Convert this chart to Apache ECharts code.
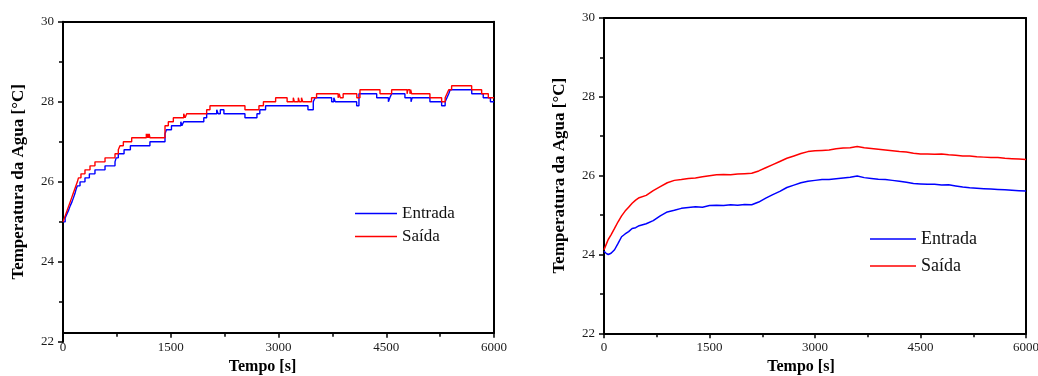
<!DOCTYPE html>
<html>
<head>
<meta charset="utf-8">
<script src="https://cdn.jsdelivr.net/npm/echarts@6/dist/echarts.min.js"></script>
<style>html,body{margin:0;padding:0;background:#fff;}#c{width:1038px;height:376px;}</style>
</head>
<body>
<div id="c"></div>
<script>
// ---- Left chart (stepped, 0.1 °C resolution): [time s, temperature °C] ----
const LEFT_ENTRADA = [[0,25.0],[30,25.1],[55,25.2],[80,25.3],[100,25.4],[125,25.5],[145,25.6],[165,25.7],[180,25.8],[200,25.9],[237,26.0],[306,26.1],[367,26.2],[445,26.3],[585,26.4],[724,26.5],[740,26.6],[770,26.7],[850,26.8],[938,26.9],[1210,27.0],[1420,27.2],[1440,27.3],[1510,27.4],[1640,27.5],[1655,27.4],[1680,27.5],[1960,27.6],[2000,27.7],[2140,27.8],[2160,27.7],[2190,27.8],[2240,27.7],[2533,27.6],[2700,27.7],[2740,27.8],[2820,27.9],[3410,27.8],[3484,28.0],[3510,28.1],[3740,28.0],[3770,28.1],[3790,28.0],[4088,27.9],[4120,28.2],[4367,28.1],[4530,28.0],[4550,28.1],[4575,28.2],[4760,28.1],[4845,28.0],[4860,28.1],[5108,28.0],[5271,27.9],[5320,28.0],[5345,28.1],[5370,28.2],[5390,28.3],[5690,28.2],[5850,28.1],[5950,28.0],[6000,28.0]];
const LEFT_SAIDA = [[0,25.0],[20,25.1],[40,25.2],[60,25.3],[80,25.4],[100,25.5],[120,25.6],[140,25.7],[160,25.8],[180,25.9],[200,26.0],[215,26.1],[250,26.2],[306,26.3],[376,26.4],[445,26.5],[585,26.6],[724,26.7],[770,26.8],[793,26.9],[840,27.0],[956,27.1],[1160,27.2],[1170,27.1],[1180,27.2],[1190,27.1],[1200,27.2],[1210,27.1],[1420,27.4],[1466,27.5],[1536,27.6],[1680,27.7],[1700,27.6],[1722,27.7],[2000,27.8],[2046,27.9],[2533,27.8],[2728,27.9],[2790,28.0],[2960,28.1],[3120,28.0],[3206,28.1],[3220,28.0],[3276,28.1],[3290,28.0],[3320,28.1],[3337,28.0],[3460,28.1],[3530,28.2],[3830,28.1],[3845,28.2],[3860,28.1],[3900,28.2],[4090,28.1],[4134,28.3],[4413,28.2],[4575,28.3],[4790,28.2],[4800,28.3],[4830,28.2],[4840,28.3],[4853,28.2],[5108,28.1],[5271,28.0],[5320,28.1],[5345,28.2],[5370,28.3],[5410,28.4],[5689,28.3],[5828,28.2],[5921,28.1],[6000,28.1]];

// ---- Right chart (continuous) ----
const RIGHT_T = [0,30,60,100,150,200,250,300,350,400,450,500,600,700,800,900,1000,1100,1200,1300,1400,1500,1600,1700,1800,1900,2000,2100,2200,2300,2400,2500,2600,2700,2800,2900,3000,3100,3200,3300,3400,3500,3600,3700,3800,3900,4000,4100,4200,4300,4400,4500,4600,4700,4800,4900,5000,5100,5200,5300,5400,5500,5600,5700,5800,5900,6000];
const RIGHT_ENTRADA = [24.08,24.03,24.0,24.03,24.12,24.28,24.45,24.52,24.58,24.66,24.68,24.73,24.78,24.86,24.98,25.08,25.12,25.17,25.19,25.21,25.2,25.24,25.25,25.24,25.26,25.25,25.27,25.26,25.33,25.43,25.52,25.6,25.7,25.76,25.82,25.86,25.88,25.9,25.9,25.92,25.94,25.96,25.99,25.95,25.93,25.91,25.9,25.88,25.86,25.83,25.8,25.79,25.78,25.78,25.76,25.77,25.74,25.71,25.69,25.68,25.67,25.66,25.65,25.64,25.63,25.62,25.61];
const RIGHT_SAIDA = [24.12,24.25,24.38,24.5,24.66,24.83,24.98,25.1,25.2,25.3,25.38,25.44,25.5,25.62,25.72,25.82,25.88,25.9,25.93,25.94,25.97,26.0,26.02,26.03,26.02,26.04,26.05,26.06,26.12,26.2,26.28,26.36,26.44,26.5,26.56,26.61,26.63,26.64,26.65,26.68,26.7,26.71,26.74,26.71,26.69,26.67,26.65,26.63,26.61,26.6,26.57,26.55,26.55,26.54,26.55,26.53,26.52,26.5,26.5,26.48,26.47,26.46,26.46,26.44,26.43,26.42,26.41];

const X_MIN = 0, X_MAX = 6000, X_STEP = 1500;
const Y_MIN = 22, Y_MAX = 30, Y_STEP = 2;
const SERIES_NAMES = ['Entrada', 'Saída'];
const X_TITLE = 'Tempo [s]';
const Y_TITLE = 'Temperatura da Agua [°C]';

const FONT = '"Liberation Serif", "DejaVu Serif", serif';
const BLUE = '#0000ff', RED = '#ff0000';

// left chart: the y axis runs 22..30 over a taller box; the x axis sits slightly above 22
const L_TOP = 21.7, L_H_FULL = 320.3, L_H_DATA = 311;
const L_DATA_MIN = Y_MAX - L_H_DATA * (Y_MAX - Y_MIN) / L_H_FULL;

const axisLineStyle = {show: true, onZero: false, lineStyle: {color: '#000', width: 2}};
const labelStyle = {fontFamily: FONT, fontSize: 13, color: '#1a1a1a', formatter: v => String(v)};

function bottomX(grid, padRight) {
  return {
    gridIndex: grid, type: 'value', position: 'bottom', min: X_MIN, max: X_MAX, interval: X_STEP,
    axisLine: axisLineStyle,
    axisTick: {show: true, inside: false, length: 5, lineStyle: {color: '#000', width: 1.5}},
    minorTick: {show: true, splitNumber: 2, length: 4, lineStyle: {color: '#000', width: 1.5}},
    axisLabel: Object.assign({margin: 8}, labelStyle),
    splitLine: {show: false},
    name: X_TITLE, nameLocation: 'middle', nameGap: 25,
    nameTextStyle: {fontFamily: FONT, fontSize: 16, fontWeight: 'bold', color: '#000', padding: [0, padRight, 0, 0]}
  };
}
function topX(grid) {
  return {gridIndex: grid, type: 'value', position: 'top', min: X_MIN, max: X_MAX,
    axisLine: axisLineStyle, axisTick: {show: false}, axisLabel: {show: false}, splitLine: {show: false}};
}
function leftY(grid, padLeft) {
  return {
    gridIndex: grid, type: 'value', position: 'left', min: Y_MIN, max: Y_MAX, interval: Y_STEP,
    axisLine: axisLineStyle,
    axisTick: {show: true, inside: false, length: 5, lineStyle: {color: '#000', width: 1.5}},
    minorTick: {show: true, splitNumber: 2, length: 4, lineStyle: {color: '#000', width: 1.5}},
    axisLabel: Object.assign({margin: 9}, labelStyle),
    splitLine: {show: false},
    name: Y_TITLE, nameLocation: 'middle', nameRotate: 90, nameGap: 36,
    nameTextStyle: {fontFamily: FONT, fontSize: 17, fontWeight: 'bold', color: '#000', padding: [0, 0, 0, padLeft]}
  };
}
function rightY(grid, min) {
  return {gridIndex: grid, type: 'value', position: 'right', min: min, max: Y_MAX,
    axisLine: axisLineStyle, axisTick: {show: false}, axisLabel: {show: false}, splitLine: {show: false}};
}

const pair = (T, V) => T.map((t, i) => [t, V[i]]);

const option = {
  animation: false,
  backgroundColor: '#fff',
  grid: [
    {left: 63, top: L_TOP, width: 431, height: L_H_FULL, outerBoundsMode: 'none', containLabel: false},
    {left: 63, top: L_TOP, width: 431, height: L_H_DATA, outerBoundsMode: 'none', containLabel: false},
    {left: 604, top: 18, width: 422, height: 315.3, outerBoundsMode: 'none', containLabel: false}
  ],
  xAxis: [
    {gridIndex: 0, type: 'value', min: X_MIN, max: X_MAX, show: false},
    bottomX(1, 32),
    topX(1),
    bottomX(2, 28),
    topX(2)
  ],
  yAxis: [
    leftY(0, 0),
    rightY(1, L_DATA_MIN),
    leftY(2, 0),
    rightY(2, Y_MIN)
  ],
  legend: [
    {orient: 'vertical', left: 350, top: 200, icon: 'rect', itemWidth: 42, itemHeight: 1.5, itemGap: 6,
     data: SERIES_NAMES, textStyle: {fontFamily: FONT, fontSize: 17, color: '#111'}},
    {orient: 'vertical', left: 865, top: 225, icon: 'rect', itemWidth: 46, itemHeight: 1.5, itemGap: 9,
     data: SERIES_NAMES, textStyle: {fontFamily: FONT, fontSize: 18, color: '#111'}}
  ],
  series: [
    {name: SERIES_NAMES[0], type: 'line', step: 'end', xAxisIndex: 1, yAxisIndex: 1, data: LEFT_ENTRADA,
     symbol: 'none', lineStyle: {color: BLUE, width: 1.4}, itemStyle: {color: BLUE}},
    {name: SERIES_NAMES[1], type: 'line', step: 'end', xAxisIndex: 1, yAxisIndex: 1, data: LEFT_SAIDA,
     symbol: 'none', lineStyle: {color: RED, width: 1.4}, itemStyle: {color: RED}},
    {name: SERIES_NAMES[0], type: 'line', xAxisIndex: 3, yAxisIndex: 2, data: pair(RIGHT_T, RIGHT_ENTRADA),
     symbol: 'none', lineStyle: {color: BLUE, width: 1.5}, itemStyle: {color: BLUE}},
    {name: SERIES_NAMES[1], type: 'line', xAxisIndex: 3, yAxisIndex: 2, data: pair(RIGHT_T, RIGHT_SAIDA),
     symbol: 'none', lineStyle: {color: RED, width: 1.5}, itemStyle: {color: RED}}
  ]
};

const chart = echarts.init(document.getElementById('c'), null, {renderer: 'canvas'});
chart.setOption(option);
</script>
</body>
</html>
